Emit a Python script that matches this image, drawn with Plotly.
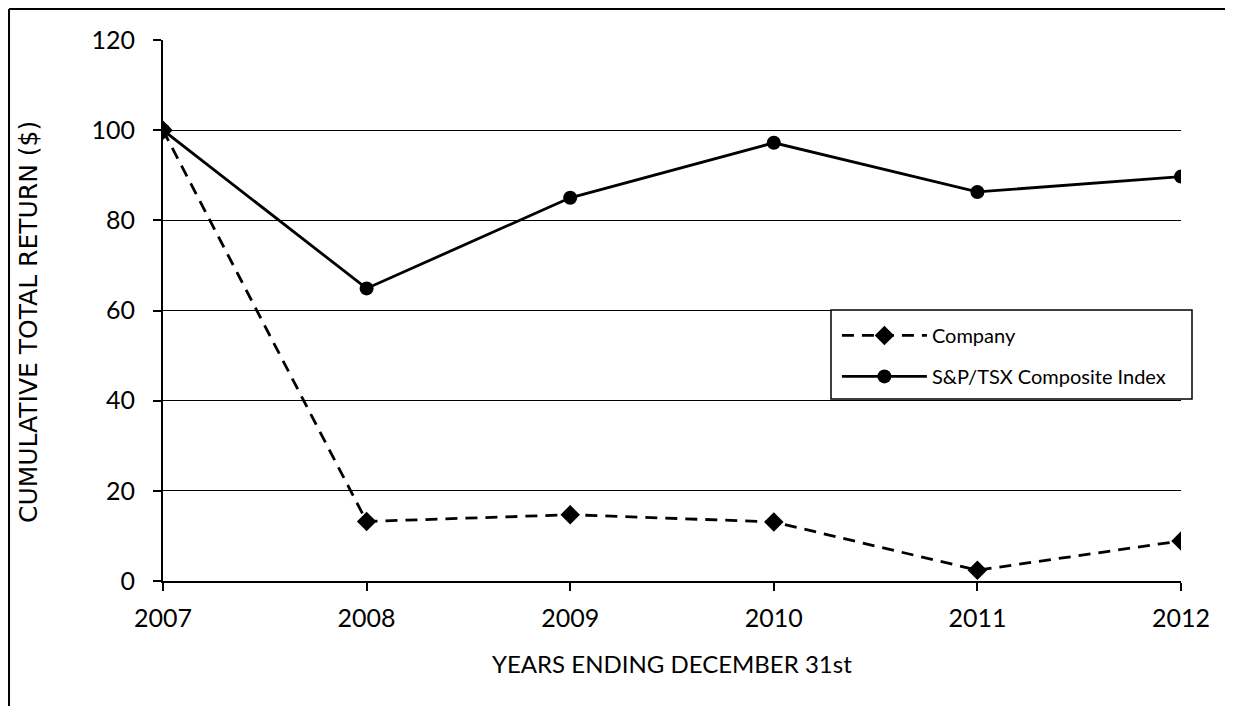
import plotly.graph_objects as go

years = [2007, 2008, 2009, 2010, 2011, 2012]
company = [100, 13.2, 14.7, 13.1, 2.4, 8.9]
sptsx = [100, 64.9, 85.0, 97.2, 86.3, 89.7]
y_ticks = [0, 20, 40, 60, 80, 100, 120]

W, H = 1225, 698
L, T, PW, PH = 155, 32, 1018, 541

fig = go.Figure()
fig.add_trace(go.Scatter(
    x=years, y=company, name="Company", mode="lines+markers",
    line=dict(color="black", width=2.8, dash="12px,8px"),
    marker=dict(symbol="diamond", size=15, color="black"),
    legendgroup="a",
))
fig.add_trace(go.Scatter(
    x=years, y=sptsx, name="S&P/TSX Composite Index", mode="lines+markers",
    line=dict(color="black", width=2.8),
    marker=dict(symbol="circle", size=14, color="black"),
    legendgroup="b",
))

x_left = -L / PW + 0.001
y_top = 1 + T / PH - 0.002

fig.update_layout(
    width=W, height=H,
    margin=dict(l=L, r=W - L - PW, t=T, b=H - T - PH),
    paper_bgcolor="white", plot_bgcolor="white",
    font=dict(family="Lato, Liberation Sans, sans-serif", color="black"),
    showlegend=True,
    legend=dict(
        x=0.662, y=0.49, xanchor="left", yanchor="top",
        borderwidth=0, bgcolor="rgba(0,0,0,0)",
        font=dict(size=20, family="Lato, sans-serif"),
        itemwidth=85, tracegroupgap=12,
    ),
    xaxis=dict(
        range=[2007, 2012], tickvals=years, ticktext=[str(y) for y in years],
        showgrid=False, showline=True, linecolor="black", linewidth=2,
        ticks="outside", ticklen=8, tickwidth=1.5, tickcolor="black",
        tickfont=dict(size=25), ticklabelstandoff=6, zeroline=False,
    ),
    yaxis=dict(
        range=[0, 120], tickvals=y_ticks,
        showgrid=True, gridcolor="black", gridwidth=1,
        showline=True, linecolor="black", linewidth=2,
        ticks="outside", ticklen=8, tickwidth=1.5, tickcolor="black",
        tickfont=dict(size=25), ticklabelstandoff=13, zeroline=False,
    ),
    annotations=[
        dict(text="YEARS ENDING DECEMBER 31st", xref="paper", yref="paper",
             x=0.5, y=-(663 - 8 - T - PH) / PH, xanchor="center", yanchor="middle",
             showarrow=False, font=dict(size=24, family="Lato, sans-serif")),
        dict(text="CUMULATIVE TOTAL RETURN ($)", xref="paper", yref="paper",
             x=-(L - (28 - 8)) / PW, y=1 - (322 - 8 - T) / PH, xanchor="center", yanchor="middle",
             showarrow=False, textangle=-90,
             font=dict(size=25, family="DejaVu Sans, sans-serif")),
    ],
    shapes=[
        dict(type="line", xref="paper", yref="paper",
             x0=x_left, x1=2.0, y0=y_top, y1=y_top,
             line=dict(color="black", width=2), layer="below"),
        dict(type="line", xref="paper", yref="paper",
             x0=x_left, x1=x_left, y0=-1.0, y1=y_top,
             line=dict(color="black", width=2), layer="below"),
        dict(type="rect", xref="paper", yref="paper",
             x0=(831 - 163) / PW, x1=(1192 - 163) / PW,
             y0=(581 - 399) / PH, y1=(581 - 310) / PH,
             line=dict(color="black", width=1.5), fillcolor="white", layer="above"),
    ],
)

fig.write_html("out.html")
